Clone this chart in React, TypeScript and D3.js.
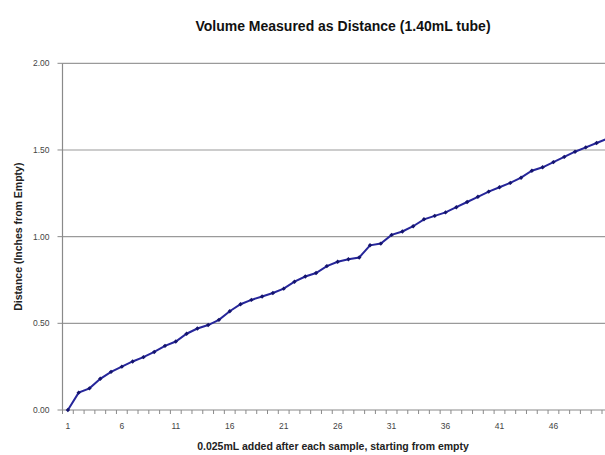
import React from "react";
import * as d3 from "d3";

const TITLE = "Volume Measured as Distance (1.40mL tube)";
const X_TITLE = "0.025mL added after each sample, starting from empty";
const Y_TITLE = "Distance (Inches from Empty)";

const samples: number[] = d3.range(1, 52);
const distance: number[] = [
  0.0, 0.1, 0.125, 0.18, 0.22, 0.25, 0.28, 0.305, 0.335, 0.37,
  0.395, 0.44, 0.47, 0.49, 0.52, 0.57, 0.61, 0.635, 0.655, 0.675,
  0.7, 0.74, 0.77, 0.79, 0.83, 0.855, 0.87, 0.88, 0.95, 0.96,
  1.01, 1.03, 1.06, 1.1, 1.12, 1.14, 1.17, 1.2, 1.23, 1.26,
  1.285, 1.31, 1.34, 1.38, 1.4, 1.43, 1.46, 1.49, 1.515, 1.54,
  1.565,
];
const xTickLabels: number[] = [1, 6, 11, 16, 21, 26, 31, 36, 41, 46];
const yTicks: number[] = [0, 0.5, 1.0, 1.5, 2.0];

const W = 605;
const H = 455;
const left = 62.5;
const bottom = 410;
const top = 63.3;
const step = 10.79;
const right = left + samples.length * step;

export default function App() {
  const x = d3
    .scaleLinear()
    .domain([0.5, samples.length + 0.5])
    .range([left, right]);
  const y = d3.scaleLinear().domain([0, 2]).range([bottom, top]);

  const line = d3
    .line<number>()
    .x((_, i) => x(samples[i]))
    .y((d) => y(d));

  const boundaries = d3.range(0, samples.length + 1).map((k) => x(0.5 + k));

  return (
    <svg
      width={W}
      height={H}
      style={{ position: "absolute", left: 0, top: 0, background: "#fff" }}
      fontFamily="'Liberation Sans', Arial, sans-serif"
    >
      <rect width={W} height={H} fill="#fff" />
      {yTicks.slice(1).map((t) => (
        <line
          key={t}
          x1={left}
          x2={W}
          y1={y(t)}
          y2={y(t)}
          stroke="#9a9a9a"
          strokeWidth={1.2}
        />
      ))}
      <line x1={left} x2={left} y1={top} y2={bottom} stroke="#8a8a8a" strokeWidth={1.2} />
      {yTicks.map((t) => (
        <g key={t}>
          <line x1={left - 5} x2={left} y1={y(t)} y2={y(t)} stroke="#8a8a8a" strokeWidth={1} />
          <text
            x={left - 13}
            y={y(t)}
            dy="0.35em"
            textAnchor="end"
            fontSize={8.5}
            fill="#444"
          >
            {t.toFixed(2)}
          </text>
        </g>
      ))}
      <line x1={left} x2={W} y1={bottom} y2={bottom} stroke="#8a8a8a" strokeWidth={1.2} />
      {boundaries.map((bx, k) => (
        <line key={k} x1={bx} x2={bx} y1={bottom} y2={bottom + 4} stroke="#8a8a8a" strokeWidth={1} />
      ))}
      {xTickLabels.map((t) => (
        <text
          key={t}
          x={x(t)}
          y={bottom + 16}
          dy="0.35em"
          textAnchor="middle"
          fontSize={8.5}
          fill="#444"
        >
          {t}
        </text>
      ))}
      <path d={line(distance) || ""} fill="none" stroke="#26269a" strokeWidth={2} />
      {distance.map((d, i) => {
        const cx = x(samples[i]);
        const cy = y(d);
        const s = 2.2;
        return (
          <path
            key={i}
            d={`M${cx},${cy - s}L${cx + s},${cy}L${cx},${cy + s}L${cx - s},${cy}Z`}
            fill="#14146e"
          />
        );
      })}
      <text
        x={343}
        y={26}
        dy="0.35em"
        textAnchor="middle"
        fontSize={14}
        fontWeight="bold"
        fill="#111"
      >
        {TITLE}
      </text>
      <text
        x={333}
        y={446}
        dy="0.35em"
        textAnchor="middle"
        fontSize={10.5}
        fontWeight="bold"
        fill="#222"
      >
        {X_TITLE}
      </text>
      <text
        transform={`translate(18,${(top + bottom) / 2}) rotate(-90)`}
        dy="0.35em"
        textAnchor="middle"
        fontSize={10.5}
        fontWeight="bold"
        fill="#222"
      >
        {Y_TITLE}
      </text>
    </svg>
  );
}
